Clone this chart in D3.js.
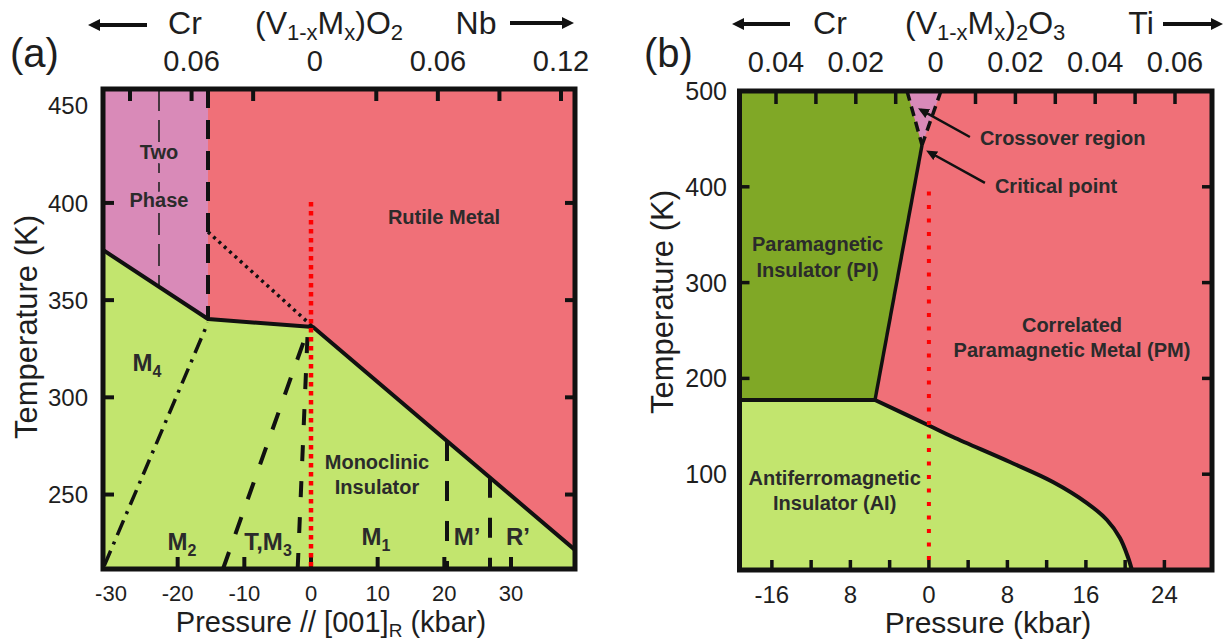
<!DOCTYPE html>
<html><head><meta charset="utf-8">
<script src="https://cdn.jsdelivr.net/npm/d3@7"></script>
<style>body{margin:0;background:#fff;} svg{display:block;font-family:"Liberation Sans",Arial,Helvetica,sans-serif;}</style>
</head><body><svg id="c" width="1228" height="641"></svg>
<script>
// ---------------- DATA: panel (a) VO2 ----------------
const pressureTicksA = [-20, -10, 0, 10, 20, 30];
const pressureLabelsA = [-30, -20, -10, 0, 10, 20, 30];
const tempTicksA = [250, 300, 350, 400];
const tempLabelsA = [250, 300, 350, 400, 450];
const compTicksA = [-0.09, -0.06, -0.03, 0.03, 0.06, 0.09, 0.12];
const compLabelsA = [-0.06, 0, 0.06, 0.12];
// phase boundaries (pressure kbar, temperature K)
const mitBoundaryA = [[-31.2, 375.8], [-15.45, 340.3], [0.3, 336.2], [39.6, 221.5]];
const twoPhaseEdgeA = [[-15.45, 458.6], [-15.45, 340.3]];
const twoPhaseMidA = [[-22.8, 458.6], [-22.8, 356.9]];
const metastableA = [[-15.45, 385.1], [0.3, 336.2]];
const m4m2A = [[-31.0, 213.5], [-15.45, 338.5]];
const m2tA = [[-13.2, 211.7], [-0.6, 333.5]];
const tm1A = [[-2.0, 211.7], [-0.5, 333.5]];
const m1mpA = [[20.4, 277.5], [20.4, 211.7]];
const mprpA = [[26.85, 258.7], [26.85, 211.7]];
const ambientA = [[0, 400.5], [0, 211.7]];
const regionLabelsA = [
  {parts: [["Two", 0]], P: -22.8, T: 426.2},
  {parts: [["Phase", 0]], P: -22.8, T: 401.5},
  {parts: [["Rutile Metal", 0]], P: 19.95, T: 392.8},
  {parts: [["Monoclinic", 0]], P: 9.9, T: 266.8},
  {parts: [["Insulator", 0]], P: 9.9, T: 253.9}
];
const structureLabelsA = [
  {parts: [["M", 0], ["4", 1]], P: -24.6, T: 318.2},
  {parts: [["M", 0], ["2", 1]], P: -19.35, T: 226.1},
  {parts: [["T,M", 0], ["3", 1]], P: -6.45, T: 226.1},
  {parts: [["M", 0], ["1", 1]], P: 9.75, T: 228.7},
  {parts: [["M\u2019", 0]], P: 23.4, T: 228.7},
  {parts: [["R\u2019", 0]], P: 31.05, T: 228.7}
];

// ---------------- DATA: panel (b) V2O3 ----------------
const pressureTicksB = [-16, -12, -8, -4, 0, 4, 8, 12, 16, 20, 24];
const pressureLabelsB = [-16, -8, 0, 8, 16, 24];
const pressureLabelTextB = ["-16", "8", "0", "8", "16", "24"];
const tempTicksBLeft = [200, 300, 400];
const tempTicksBRight = [100, 200, 300, 400];
const tempLabelsB = [100, 200, 300, 400, 500];
const compTicksB = [-0.04, -0.03, -0.02, -0.01, 0.01, 0.02, 0.03, 0.04, 0.05, 0.06];
const compLabelsB = [-0.04, -0.02, 0, 0.02, 0.04, 0.06];
const piBoundaryB = [[-5.49, 177.5], [-0.70, 443.6]];
const afBoundaryFlatB = [[-19.3, 177.5], [-5.49, 177.5]];
const aiBoundaryB = [[-5.49, 177.5], [0.11, 150.3], [2.45, 138.8], [8.26, 112.7], [12.64, 91.9],
  [16.11, 69.9], [18.15, 52.2], [19.47, 33.4], [20.28, 13.6], [20.69, 0]];
const crossLeftB = [[-2.23, 500], [-0.70, 443.6]];
const crossRightB = [[1.23, 500], [-0.70, 443.6]];
const ambientB = [[0, 395], [0, 2]];
const crossoverArrowB = [[4.18, 452], [-0.81, 480.2]];
const criticalArrowB = [[5.71, 404], [0.01, 436.3]];
const regionLabelsB = [
  {parts: [["Paramagnetic", 0]], P: -11.35, T: 340.3},
  {parts: [["Insulator (PI)", 0]], P: -11.35, T: 313.6},
  {parts: [["Correlated", 0]], P: 14.58, T: 256.3},
  {parts: [["Paramagnetic Metal (PM)", 0]], P: 14.58, T: 230.2},
  {parts: [["Antiferromagnetic", 0]], P: -9.6, T: 96.6},
  {parts: [["Insulator (AI)", 0]], P: -9.6, T: 70.5}
];
const annotationLabelsB = [
  {parts: [["Crossover region", 0]], P: 5.2, T: 451},
  {parts: [["Critical point", 0]], P: 6.73, T: 400.8}
];

// ---------------- STYLE ----------------
const COL = {metal: "#f07078", twoPhase: "#d98ab8", insul: "#c2e56e", pi: "#80a826",
  frame: "#111", text: "#1e1e1e", label: "#2b2b2b", red: "#ff0000"};

const svg = d3.select("#c");
svg.append("rect").attr("width", 1228).attr("height", 641).attr("fill", "#fff");
const defs = svg.append("defs");
defs.append("marker").attr("id", "headBig").attr("viewBox", "0 0 12 12")
  .attr("markerUnits", "userSpaceOnUse").attr("markerWidth", 12).attr("markerHeight", 12)
  .attr("refX", 2).attr("refY", 6).attr("orient", "auto")
  .append("path").attr("d", "M0,0L12,6L0,12Z").attr("fill", "#111");
defs.append("marker").attr("id", "headSmall").attr("viewBox", "0 0 10 9")
  .attr("markerUnits", "userSpaceOnUse").attr("markerWidth", 11).attr("markerHeight", 10)
  .attr("refX", 7).attr("refY", 4.5).attr("orient", "auto")
  .append("path").attr("d", "M0,0L10,4.5L0,9Z").attr("fill", "#111");

function richText(g, parts, x, y, size, anchor, weight, fill, subSize, subDy) {
  const t = g.append("text").attr("x", x).attr("y", y).attr("text-anchor", anchor)
    .attr("font-size", size).attr("font-weight", weight).attr("fill", fill);
  let shifted = false;
  parts.forEach(([s, sub]) => {
    const ts = t.append("tspan").text(s);
    if (sub) {
      ts.attr("font-size", subSize);
      if (!shifted) { ts.attr("dy", subDy); shifted = true; }
    } else if (shifted) { ts.attr("dy", -subDy); shifted = false; }
  });
  return t;
}
function drawLine(g, data, x, y, st) {
  return g.append("path").datum(data)
    .attr("d", d3.line().x(d => x(d[0])).y(d => y(d[1])).curve(st.curve || d3.curveLinear))
    .attr("fill", "none").attr("stroke", st.color || "#111").attr("stroke-width", st.w)
    .attr("stroke-dasharray", st.dash || null).attr("stroke-linecap", st.cap || "butt")
    .attr("stroke-linejoin", "round");
}
const compFmt = d => d === 0 ? "0" : Math.abs(d).toFixed(2);

// ================= PANEL (a) =================
const xA = d3.scaleLinear().domain([-31.2, 39.6]).range([103, 575]);
const yA = d3.scaleLinear().domain([211.7, 458.6]).range([569, 89]);
const cA = d3.scaleLinear().domain([-0.09, 0.12]).range([130, 561]);
const gA = svg.append("g");
const [ax0, ax1] = xA.domain(), [ay0, ay1] = yA.domain();
defs.append("clipPath").attr("id", "clipA").append("rect")
  .attr("x", xA(ax0)).attr("y", yA(ay1)).attr("width", xA(ax1) - xA(ax0)).attr("height", yA(ay0) - yA(ay1));
const pA = gA.append("g").attr("clip-path", "url(#clipA)");
const polyA = d3.line().x(d => xA(d[0])).y(d => yA(d[1]));
pA.append("rect").attr("x", xA(ax0)).attr("y", yA(ay1)).attr("width", xA(ax1) - xA(ax0))
  .attr("height", yA(ay0) - yA(ay1)).attr("fill", COL.metal);
pA.append("path").attr("d", polyA([[ax0, ay0], ...mitBoundaryA, [ax1, ay0]]) + "Z").attr("fill", COL.insul);
pA.append("path").attr("d", polyA([[ax0, ay1], twoPhaseEdgeA[0], twoPhaseEdgeA[1], mitBoundaryA[0]]) + "Z")
  .attr("fill", COL.twoPhase);

drawLine(pA, twoPhaseMidA, xA, yA, {w: 1.6, dash: "22,9", color: "#222"});
drawLine(pA, mitBoundaryA, xA, yA, {w: 4});
drawLine(pA, twoPhaseEdgeA, xA, yA, {w: 4, dash: "19,12"});
drawLine(pA, metastableA, xA, yA, {w: 3.5, dash: "3,4.2"});
drawLine(pA, m4m2A, xA, yA, {w: 3.5, dash: "16,7,3,7"});
drawLine(pA, m2tA, xA, yA, {w: 4, dash: "18,19"});
drawLine(pA, tm1A, xA, yA, {w: 4, dash: "16,20"});
drawLine(pA, m1mpA, xA, yA, {w: 4, dash: "20,20"});
drawLine(pA, mprpA, xA, yA, {w: 4, dash: "20,20"});

// ticks (a)
const tkA = gA.append("g").attr("stroke", COL.frame).attr("stroke-width", 4);
tkA.selectAll(".b").data(pressureTicksA).join("line")
  .attr("x1", d => xA(d)).attr("x2", d => xA(d)).attr("y1", yA(ay0)).attr("y2", yA(ay0) - 12);
tkA.selectAll(".t").data(compTicksA).join("line")
  .attr("x1", d => cA(d)).attr("x2", d => cA(d)).attr("y1", yA(ay1)).attr("y2", yA(ay1) + 12);
tkA.selectAll(".l").data(tempTicksA).join("line")
  .attr("x1", xA(ax0)).attr("x2", xA(ax0) + 11).attr("y1", d => yA(d)).attr("y2", d => yA(d));
tkA.selectAll(".r").data(tempTicksA).join("line")
  .attr("x1", xA(ax1)).attr("x2", xA(ax1) - 10).attr("y1", d => yA(d)).attr("y2", d => yA(d));

drawLine(gA, ambientA, xA, yA, {w: 4.5, dash: "4.5,4.5", color: COL.red});

gA.append("rect").attr("x", xA(ax0)).attr("y", yA(ay1)).attr("width", xA(ax1) - xA(ax0))
  .attr("height", yA(ay0) - yA(ay1)).attr("fill", "none").attr("stroke", COL.frame).attr("stroke-width", 5);

// region labels (a)
regionLabelsA.forEach(l => {
  const t = richText(gA, l.parts, xA(l.P), yA(l.T) + 7.2, 20, "middle", "bold", COL.label, 14, 5);
  if (l.P < -15) t.attr("stroke", COL.twoPhase).attr("stroke-width", 9).attr("paint-order", "stroke")
    .attr("stroke-linejoin", "round");
});
structureLabelsA.forEach(l => richText(gA, l.parts, xA(l.P), yA(l.T) + 8.6, 24, "middle", "bold", COL.label, 16, 6));

// axes labels (a)
gA.selectAll(".xl").data(pressureLabelsA).join("text").attr("x", d => xA(d)).attr("y", 601)
  .attr("text-anchor", "middle").attr("font-size", 22).attr("fill", COL.text).text(d => d);
gA.selectAll(".yl").data(tempLabelsA).join("text").attr("x", 88).attr("y", d => yA(d) + 8.6)
  .attr("text-anchor", "end").attr("font-size", 24).attr("fill", COL.text).text(d => d);
gA.selectAll(".cl").data(compLabelsA).join("text").attr("x", d => cA(d)).attr("y", 71)
  .attr("text-anchor", "middle").attr("font-size", 29).attr("fill", COL.text).text(compFmt);
richText(gA, [["Pressure // [001]", 0], ["R", 1], [" (kbar)", 0]], 331, 632, 29, "middle", "normal", COL.text, 19, 5);
gA.append("text").attr("transform", "translate(37,327) rotate(-90)").attr("text-anchor", "middle")
  .attr("font-size", 31).attr("fill", COL.text).text("Temperature (K)");
gA.append("text").attr("x", 10).attr("y", 67).attr("font-size", 40).attr("fill", COL.text).text("(a)");
gA.append("text").attr("x", 185).attr("y", 34).attr("text-anchor", "middle").attr("font-size", 32).attr("fill", COL.text).text("Cr");
richText(gA, [["(V", 0], ["1-x", 1], ["M", 0], ["x", 1], [")O", 0], ["2", 1]], 255, 34, 32, "start", "normal", COL.text, 22, 6);
gA.append("text").attr("x", 476).attr("y", 34).attr("text-anchor", "middle").attr("font-size", 32).attr("fill", COL.text).text("Nb");
gA.append("line").attr("x1", 147).attr("x2", 98).attr("y1", 25).attr("y2", 25).attr("stroke", "#111").attr("stroke-width", 4).attr("marker-end", "url(#headBig)");
gA.append("line").attr("x1", 510).attr("x2", 564).attr("y1", 23).attr("y2", 23).attr("stroke", "#111").attr("stroke-width", 4).attr("marker-end", "url(#headBig)");

// ================= PANEL (b) =================
const xB = d3.scaleLinear().domain([-19.3, 28.85]).range([739.5, 1212]);
const yB = d3.scaleLinear().domain([0, 500]).range([570, 91]);
const cB = d3.scaleLinear().domain([-0.04, 0.06]).range([776, 1175]);
const gB = svg.append("g");
const [bx0, bx1] = xB.domain(), [by0, by1] = yB.domain();
defs.append("clipPath").attr("id", "clipB").append("rect")
  .attr("x", xB(bx0)).attr("y", yB(by1)).attr("width", xB(bx1) - xB(bx0)).attr("height", yB(by0) - yB(by1));
const pB = gB.append("g").attr("clip-path", "url(#clipB)");
const polyB = d3.line().x(d => xB(d[0])).y(d => yB(d[1]));
const curveB = d3.line().x(d => xB(d[0])).y(d => yB(d[1])).curve(d3.curveCatmullRom.alpha(0.5));
pB.append("rect").attr("x", xB(bx0)).attr("y", yB(by1)).attr("width", xB(bx1) - xB(bx0))
  .attr("height", yB(by0) - yB(by1)).attr("fill", COL.metal);
pB.append("path").attr("d", polyB([[bx0, by1], crossLeftB[0], crossLeftB[1], piBoundaryB[0], afBoundaryFlatB[0]]) + "Z")
  .attr("fill", COL.pi);
pB.append("path").attr("d", polyB([crossLeftB[0], crossRightB[0], crossLeftB[1]]) + "Z").attr("fill", COL.twoPhase);
pB.append("path").attr("d", curveB(aiBoundaryB) + "L" + xB(bx0) + "," + yB(by0) + "L" + xB(bx0) + "," + yB(afBoundaryFlatB[0][1]) + "Z")
  .attr("fill", COL.insul);

drawLine(pB, afBoundaryFlatB, xB, yB, {w: 4});
drawLine(pB, piBoundaryB, xB, yB, {w: 3.5});
drawLine(pB, aiBoundaryB, xB, yB, {w: 4, curve: d3.curveCatmullRom.alpha(0.5)});
drawLine(pB, crossLeftB, xB, yB, {w: 3.5, dash: "10,6"});
drawLine(pB, crossRightB, xB, yB, {w: 3.5, dash: "10,6"});

const tkB = gB.append("g").attr("stroke", COL.frame).attr("stroke-width", 3.5);
tkB.selectAll(".b").data(pressureTicksB).join("line")
  .attr("x1", d => xB(d)).attr("x2", d => xB(d)).attr("y1", yB(by0)).attr("y2", yB(by0) - 10);
tkB.selectAll(".t").data(compTicksB).join("line")
  .attr("x1", d => cB(d)).attr("x2", d => cB(d)).attr("y1", yB(by1)).attr("y2", yB(by1) + 13);
tkB.selectAll(".l").data(tempTicksBLeft).join("line")
  .attr("x1", xB(bx0)).attr("x2", xB(bx0) + 10).attr("y1", d => yB(d)).attr("y2", d => yB(d));
tkB.selectAll(".r").data(tempTicksBRight).join("line")
  .attr("x1", xB(bx1)).attr("x2", xB(bx1) - 10).attr("y1", d => yB(d)).attr("y2", d => yB(d));

drawLine(gB, ambientB, xB, yB, {w: 4, dash: "4,9.5", color: COL.red});

gB.append("rect").attr("x", xB(bx0)).attr("y", yB(by1)).attr("width", xB(bx1) - xB(bx0))
  .attr("height", yB(by0) - yB(by1)).attr("fill", "none").attr("stroke", COL.frame).attr("stroke-width", 5);

drawLine(gB, crossoverArrowB, xB, yB, {w: 2.5}).attr("marker-end", "url(#headSmall)");
drawLine(gB, criticalArrowB, xB, yB, {w: 2.5}).attr("marker-end", "url(#headSmall)");

regionLabelsB.forEach(l => richText(gB, l.parts, xB(l.P), yB(l.T) + 7.2, 20, "middle", "bold", COL.label, 14, 5));
annotationLabelsB.forEach(l => richText(gB, l.parts, xB(l.P), yB(l.T) + 7.2, 20, "start", "bold", COL.label, 14, 5));

gB.selectAll(".xl").data(pressureLabelsB).join("text").attr("x", d => xB(d)).attr("y", 603)
  .attr("text-anchor", "middle").attr("font-size", 24).attr("fill", COL.text).text((d, i) => pressureLabelTextB[i]);
gB.selectAll(".yl").data(tempLabelsB).join("text").attr("x", 727).attr("y", d => yB(d) + 9)
  .attr("text-anchor", "end").attr("font-size", 25).attr("fill", COL.text).text(d => d);
gB.selectAll(".cl").data(compLabelsB).join("text").attr("x", d => cB(d)).attr("y", 72)
  .attr("text-anchor", "middle").attr("font-size", 29).attr("fill", COL.text).text(compFmt);
gB.append("text").attr("x", 988).attr("y", 633).attr("text-anchor", "middle").attr("font-size", 30)
  .attr("fill", COL.text).text("Pressure (kbar)");
gB.append("text").attr("transform", "translate(673,302) rotate(-90)").attr("text-anchor", "middle")
  .attr("font-size", 31).attr("fill", COL.text).text("Temperature (K)");
gB.append("text").attr("x", 644).attr("y", 67).attr("font-size", 40).attr("fill", COL.text).text("(b)");
gB.append("text").attr("x", 830).attr("y", 34).attr("text-anchor", "middle").attr("font-size", 32).attr("fill", COL.text).text("Cr");
richText(gB, [["(V", 0], ["1-x", 1], ["M", 0], ["x", 1], [")", 0], ["2", 1], ["O", 0], ["3", 1]], 905, 34, 32, "start", "normal", COL.text, 22, 6);
gB.append("text").attr("x", 1141).attr("y", 34).attr("text-anchor", "middle").attr("font-size", 32).attr("fill", COL.text).text("Ti");
gB.append("line").attr("x1", 1163).attr("x2", 1213).attr("y1", 24).attr("y2", 24).attr("stroke", "#111").attr("stroke-width", 4).attr("marker-end", "url(#headBig)");
gB.append("line").attr("x1", 790).attr("x2", 742).attr("y1", 24).attr("y2", 24).attr("stroke", "#111").attr("stroke-width", 4).attr("marker-end", "url(#headBig)");
</script></body></html>
